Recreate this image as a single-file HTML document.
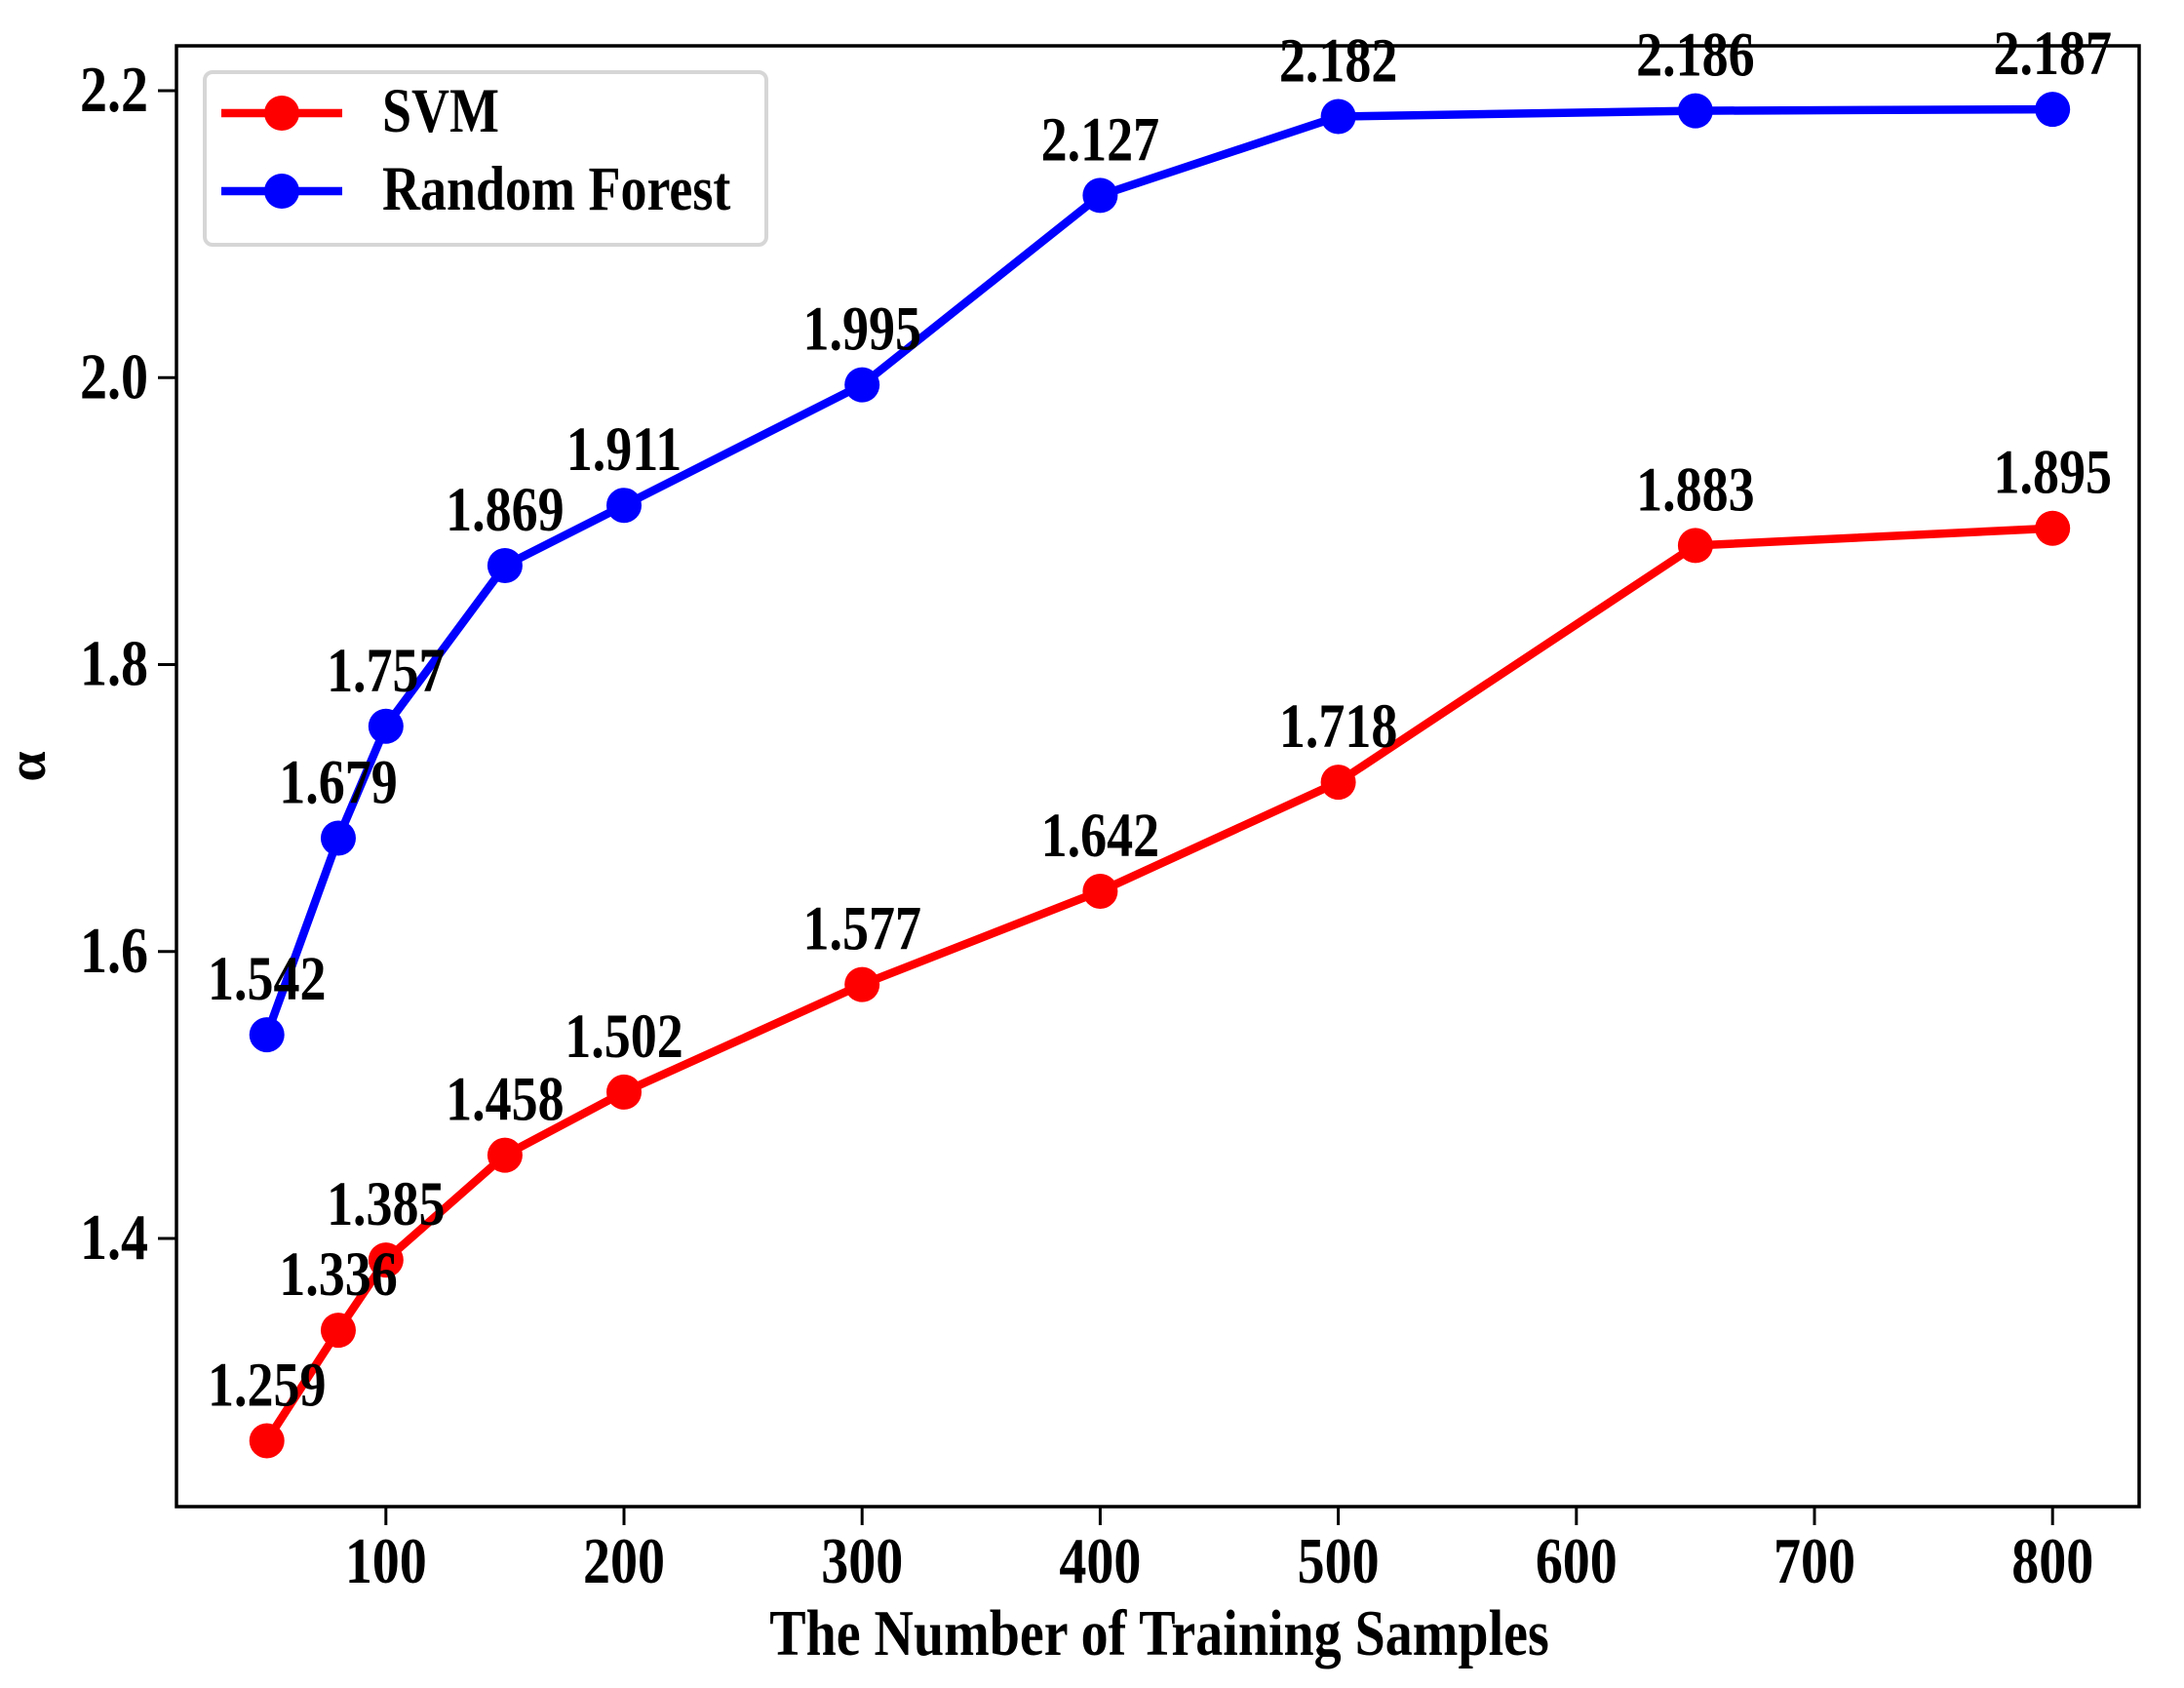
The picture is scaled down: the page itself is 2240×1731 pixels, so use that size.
<!DOCTYPE html>
<html><head><meta charset="utf-8"><style>html,body{margin:0;padding:0;background:#fff}svg{display:block}</style></head>
<body>
<svg width="2240" height="1731" viewBox="0 0 2240 1731" xmlns="http://www.w3.org/2000/svg" font-family="Liberation Serif, serif" font-weight="bold">
<rect width="2240" height="1731" fill="#fff"/>
<g id="plot"></g>
<script>
(function(){
var g=document.getElementById('plot'),NS='http://www.w3.org/2000/svg';
function X(v){return 151.6+v*2.442;}
function Y(v){return 93+(2.2-v)*1471.25;}
function el(t,a,txt){var e=document.createElementNS(NS,t);for(var k in a)e.setAttribute(k,a[k]);if(txt!==undefined)e.textContent=txt;g.appendChild(e);return e;}
function tx(x,y,s,anchor,size,extra){return el('text',{x:0,y:0,'text-anchor':anchor,'font-size':size,transform:'translate('+x+','+y+') '+(extra||'')+' scale(1,1.2)'},s);}
var xs=[50,80,100,150,200,300,400,500,650,800];
var rf=[1.542,1.679,1.757,1.869,1.911,1.995,2.127,2.182,2.186,2.187];
var svm=[1.259,1.336,1.385,1.458,1.502,1.577,1.642,1.718,1.883,1.895];
[100,200,300,400,500,600,700,800].forEach(function(v){var x=X(v);el('line',{x1:x,x2:x,y1:1545,y2:1564,stroke:'#000','stroke-width':3});tx(x,1623,String(v),'middle',56);});
[1.4,1.6,1.8,2.0,2.2].forEach(function(v){var y=Y(v);el('line',{x1:162,x2:181,y1:y,y2:y,stroke:'#000','stroke-width':3});tx(152,y+21,v.toFixed(1),'end',56);});
function series(d,c){var p=xs.map(function(x,i){return X(x)+','+Y(d[i]);}).join(' ');
el('polyline',{points:p,fill:'none',stroke:c,'stroke-width':8.5,'stroke-linejoin':'round'});
xs.forEach(function(x,i){el('circle',{cx:X(x),cy:Y(d[i]),r:18,fill:c});});
xs.forEach(function(x,i){tx(X(x),Y(d[i])-36,d[i].toFixed(3),'middle',54);});}
series(svm,'#ff0000');series(rf,'#0000ff');
el('rect',{x:181,y:47,width:2013,height:1498,fill:'none',stroke:'#000','stroke-width':3.5});
el('rect',{x:210,y:74,width:576,height:177,rx:8,fill:'#fff',stroke:'#d6d6d6','stroke-width':4});
el('line',{x1:227,x2:351,y1:116,y2:116,stroke:'#ff0000','stroke-width':8.5});el('circle',{cx:289,cy:116,r:18,fill:'#ff0000'});
el('line',{x1:227,x2:351,y1:196,y2:196,stroke:'#0000ff','stroke-width':8.5});el('circle',{cx:289,cy:196,r:18,fill:'#0000ff'});
tx(392,135,'SVM','start',54);
tx(392,215,'Random Forest','start',54);
tx(1189,1697,'The Number of Training Samples','middle',56);
el('text',{x:0,y:0,'text-anchor':'middle','font-size':56,transform:'translate(46,786) rotate(-90)'},'α');
})();
</script>
</svg>
</body></html>
